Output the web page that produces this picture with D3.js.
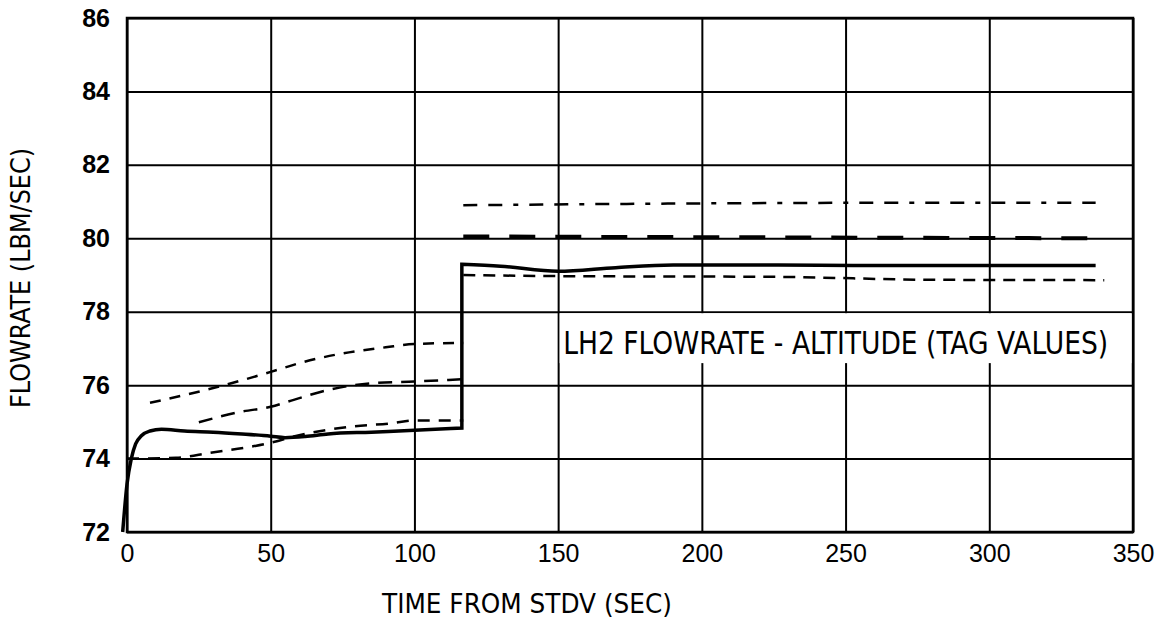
<!DOCTYPE html>
<html>
<head>
<meta charset="utf-8">
<script src="https://cdn.jsdelivr.net/npm/d3@7"></script>
<style>
  html, body { margin: 0; padding: 0; background: #fff; }
  svg { display: block; }
</style>
</head>
<body>
<svg id="chart" width="1158" height="623"></svg>
<script>
// ---------- data ----------
const xTicks = [0, 50, 100, 150, 200, 250, 300, 350];
const yTicks = [72, 74, 76, 78, 80, 82, 84, 86];

// nominal flowrate (solid): before and after the step at ~117 s
const solidLeftT = [-1.5, 0, 1.5, 3, 5, 8, 12, 20, 30, 40, 50, 55, 62, 70, 85, 100, 116.5];
const solidLeftV = [72.0, 73.3, 74.0, 74.4, 74.62, 74.75, 74.8, 74.75, 74.72, 74.67, 74.61, 74.57, 74.6, 74.67, 74.72, 74.77, 74.83];
const solidRightT = [116.5, 130, 150, 170, 190, 220, 260, 300, 337];
const solidRightV = [79.29, 79.24, 79.1, 79.2, 79.27, 79.27, 79.26, 79.26, 79.26];

// upper band (dashed, then dash-dot after step)
const upperLeftT = [8, 29, 50, 60, 74, 90, 100, 117];
const upperLeftV = [75.52, 75.9, 76.36, 76.6, 76.85, 77.03, 77.12, 77.15];
const upperRightT = [117, 200, 280, 337];
const upperRightV = [80.9, 80.95, 80.97, 80.97];

// middle band (long dashes)
const middleLeftT = [25, 40, 50, 58, 70, 85, 100, 117];
const middleLeftV = [74.99, 75.28, 75.41, 75.6, 75.87, 76.05, 76.1, 76.16];
const middleRightT = [117, 200, 337];
const middleRightV = [80.05, 80.03, 80.0];

// lower band (short dashes)
const lowerLeftT = [0, 17, 29, 43, 50, 58, 79, 92, 100, 117];
const lowerLeftV = [74.0, 74.02, 74.16, 74.32, 74.43, 74.6, 74.88, 74.96, 75.04, 75.04];
const lowerRightT = [117, 150, 225, 280, 340];
const lowerRightV = [79.0, 78.97, 78.95, 78.87, 78.86];

const labelText = "LH2 FLOWRATE - ALTITUDE (TAG VALUES)";
const xTitle = "TIME FROM STDV (SEC)";
const yTitle = "FLOWRATE (LBM/SEC)";

// ---------- layout ----------
const L = 127, R = 1133, T = 18, B = 532;
const svg = d3.select("#chart");
const x = d3.scaleLinear().domain([0, 350]).range([L, R]);
const y = d3.scaleLinear().domain([72, 86]).range([B, T]);

// grid via axes
const gx = svg.append("g").attr("transform", `translate(0,${B})`)
  .call(d3.axisBottom(x).tickValues(xTicks).tickSize(-(B - T)).tickPadding(12).tickFormat(d3.format("d")));
const gy = svg.append("g").attr("transform", `translate(${L},0)`)
  .call(d3.axisLeft(y).tickValues(yTicks).tickSize(-(R - L)).tickPadding(17).tickFormat(d3.format("d")));
[gx, gy].forEach(g => {
  g.select(".domain").remove();
  g.selectAll(".tick line").attr("stroke", "#000").attr("stroke-width", 2);
});
gx.selectAll(".tick text").attr("fill", "#000")
  .style("font-family", "'Liberation Sans', Arial, sans-serif").style("font-size", "25px");
gy.selectAll(".tick text").attr("fill", "#000")
  .style("font-family", "'Liberation Sans', Arial, sans-serif").style("font-size", "25px").style("font-weight", "bold");

// border
svg.append("rect").attr("x", L).attr("y", T).attr("width", R - L).attr("height", B - T)
  .attr("fill", "none").attr("stroke", "#000").attr("stroke-width", 2.5);

// label box (white background covering grid)
svg.append("rect")
  .attr("x", x(150) + 1.5).attr("y", y(78) + 1.5)
  .attr("width", x(350) - x(150) - 3).attr("height", y(76.6) - y(78) - 1.5)
  .attr("fill", "#fff");
svg.append("text")
  .attr("x", x(150) + 5).attr("y", y(78) + 42)
  .attr("textLength", 545).attr("lengthAdjust", "spacingAndGlyphs")
  .style("font-family", "'Liberation Sans Narrow', 'DejaVu Sans Condensed', sans-serif")
  .style("font-size", "32px").attr("fill", "#000")
  .text(labelText);

// lines
const line = d3.line().x(d => x(d[0])).y(d => y(d[1])).curve(d3.curveMonotoneX);
const zip = (ts, vs) => ts.map((t, i) => [t, vs[i]]);
function draw(pts, width, dash) {
  svg.append("path").datum(pts).attr("d", line)
    .attr("fill", "none").attr("stroke", "#000").attr("stroke-width", width)
    .attr("stroke-dasharray", dash).attr("stroke-linejoin", "round").attr("stroke-linecap", "butt");
}
draw(zip(upperLeftT, upperLeftV), 2.5, "11,9");
draw(zip(upperRightT, upperRightV), 2.5, "14,11,14,11,5,11");
draw(zip(middleLeftT, middleLeftV), 2.5, "14,9");
draw(zip(middleRightT, middleRightV), 4, "26,20");
draw(zip(lowerLeftT, lowerLeftV), 2.5, "12,9");
draw(zip(lowerRightT, lowerRightV), 2.5, "12,8");

// solid with vertical step: join both segment paths
const leftPts = zip(solidLeftT, solidLeftV);
const rightPts = zip(solidRightT, solidRightV);
const dSolid = line(leftPts) + "L" + line(rightPts).slice(1);
svg.append("path").attr("d", dSolid)
  .attr("fill", "none").attr("stroke", "#000").attr("stroke-width", 3.5)
  .attr("stroke-linejoin", "miter");

// titles
svg.append("text")
  .attr("x", 527).attr("y", 613).attr("text-anchor", "middle")
  .attr("textLength", 290).attr("lengthAdjust", "spacingAndGlyphs")
  .style("font-family", "'Liberation Sans Narrow', 'DejaVu Sans Condensed', sans-serif")
  .style("font-size", "27px").attr("fill", "#000")
  .text(xTitle);
svg.append("text")
  .attr("transform", "translate(30,278) rotate(-90)").attr("text-anchor", "middle")
  .attr("textLength", 260).attr("lengthAdjust", "spacingAndGlyphs")
  .style("font-family", "'Liberation Sans Narrow', 'DejaVu Sans Condensed', sans-serif")
  .style("font-size", "26px").attr("fill", "#000")
  .text(yTitle);
</script>
</body>
</html>
